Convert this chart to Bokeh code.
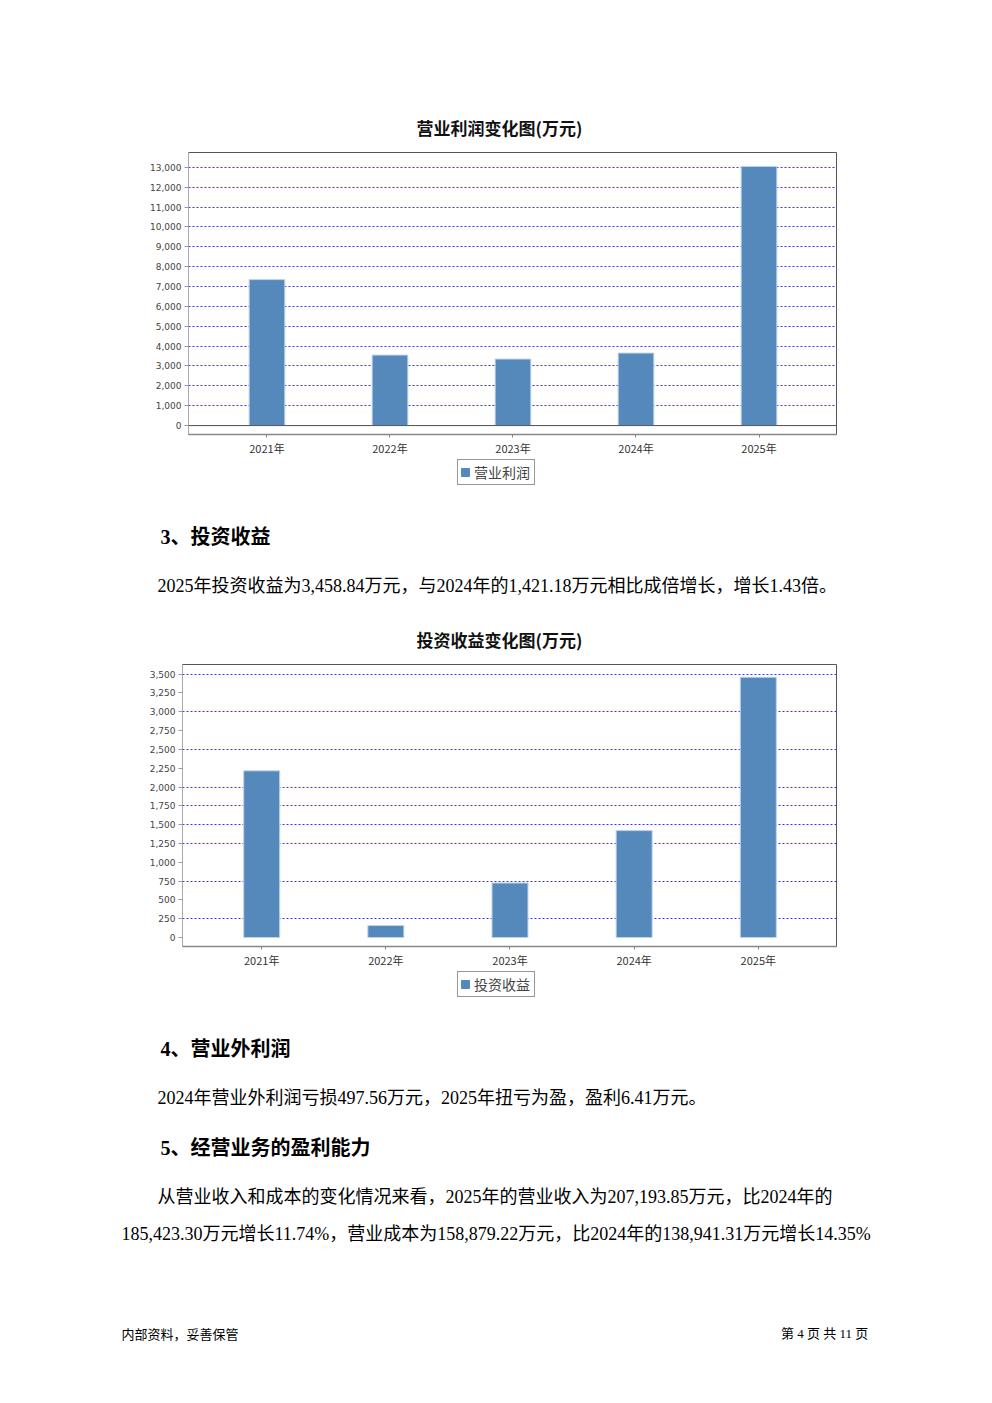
from bokeh.plotting import figure
from bokeh.models import (Range1d, FixedTicker, Span, Legend, LegendItem,
                          ColumnDataSource, NumeralTickFormatter, Title)
from bokeh.core.properties import value
from bokeh.embed import file_html
from bokeh.resources import INLINE

# ---------------- data ----------------
years = ["2021年", "2022年", "2023年", "2024年", "2025年"]
op_profit = [7350, 3550, 3350, 3650, 13050]          # 营业利润 (万元)
inv_income = [2215, 160, 725, 1421.18, 3458.84]      # 投资收益 (万元)
op_ticks = [0, 1000, 2000, 3000, 4000, 5000, 6000, 7000, 8000, 9000,
            10000, 11000, 12000, 13000]
inv_ticks = [0, 250, 500, 750, 1000, 1250, 1500, 1750, 2000, 2250, 2500,
             2750, 3000, 3250, 3500]
inv_grid = [250, 750, 1250, 1500, 1750, 2000, 2500, 3000, 3500]

title1 = "营业利润变化图(万元)"
title2 = "投资收益变化图(万元)"
series1 = "营业利润"
series2 = "投资收益"

W = 976
BAR = "#5588bb"
BAR_EDGE = "#c0d4ea"
GRID = "#3333ff"
CJK = "Noto Sans CJK SC"
BODY = "Liberation Serif, Noto Sans CJK SC"
XS = [i + 0.5 for i in range(len(years))]


def bar_chart(height, vals, ticks, grid_ticks, yr, title, bl, bt, bb,
              title_offset, baseline_box):
    src = ColumnDataSource(dict(x=XS, top=vals, name=years))
    p = figure(width=W, height=height, output_backend="svg", toolbar_location=None,
               x_range=Range1d(-0.138, len(years) + 0.13), y_range=Range1d(*yr),
               min_border_left=bl, min_border_right=W - 836, min_border_top=bt,
               min_border_bottom=bb)
    p.vbar(x="x", top="top", bottom=0, width=0.29, source=src,
           fill_color=BAR, line_color=BAR_EDGE, line_width=1)
    p.outline_line_color = "#555555"
    p.outline_line_width = 1
    p.xgrid.visible = False
    p.ygrid.ticker = FixedTicker(ticks=grid_ticks)
    p.ygrid.grid_line_color = GRID
    p.ygrid.grid_line_dash = "2 2"
    p.ygrid.grid_line_width = 1
    p.ygrid.level = "underlay"
    # y axis
    ya = p.yaxis[0]
    ya.ticker = FixedTicker(ticks=ticks)
    ya.formatter = NumeralTickFormatter(format="0,0")
    ya.major_label_text_font = "DejaVu Sans"
    ya.major_label_text_font_size = "9px"
    ya.major_label_text_color = "#444444"
    ya.major_tick_in = 0
    ya.major_tick_out = 4
    ya.major_tick_line_color = "#999999"
    ya.minor_tick_line_color = None
    ya.axis_line_color = "#aaaaaa"
    ya.major_label_standoff = 3
    # x axis
    xa = p.xaxis[0]
    xa.ticker = FixedTicker(ticks=XS)
    xa.major_label_overrides = {x: y for x, y in zip(XS, years)}
    xa.major_label_text_font = CJK
    xa.major_label_text_font_size = "11px"
    xa.major_label_text_color = "#333333"
    xa.major_tick_in = 0
    xa.major_tick_out = 3
    xa.major_tick_line_color = "#888888"
    xa.minor_tick_line_color = None
    xa.axis_line_color = "#888888"
    xa.axis_line_width = 1.5
    xa.major_label_standoff = 2
    if baseline_box:
        p.add_layout(Span(location=0, dimension="width", line_color="#555555",
                          line_width=1))
    p.add_layout(Title(text=title, align="left", offset=title_offset,
                       standoff=26, text_font=CJK, text_font_size="17px",
                       text_font_style="bold", text_color="#111111"), "above")
    return p


def text_fig(top, bottom, items, legend_label=None, legend_vals=None,
             legend_xy=None):
    p = figure(width=W, height=bottom - top, output_backend="svg",
               toolbar_location=None, x_range=Range1d(0, W),
               y_range=Range1d(bottom, top), min_border=0,
               x_axis_type=None, y_axis_type=None)
    p.outline_line_color = None
    p.grid.visible = False
    for (x, y, t, size, style, font, align) in items:
        p.text(x=[x], y=[y], text=[t], text_font=value(font),
               text_font_size=size, text_font_style=style,
               text_baseline="middle", text_align=align, text_color="#000000")
    if legend_label is not None:
        # hidden copy of the series: it only supplies the legend swatch
        r = p.vbar(x=XS, top=legend_vals, width=0.29, fill_color=BAR,
                   line_color=BAR, visible=False)
        leg = Legend(items=[LegendItem(label=legend_label, renderers=[r])],
                     location=legend_xy, orientation="horizontal",
                     border_line_color="#333333", border_line_width=1,
                     label_text_font=CJK, label_text_font_size="14px",
                     label_text_color="#444444", glyph_width=10, glyph_height=10,
                     padding=2, margin=0, label_standoff=4, spacing=0,
                     label_height=12, label_width=58, background_fill_alpha=1,
                     inactive_fill_alpha=0, click_policy="none")
        p.add_layout(leg)
    return p


chart1 = bar_chart(458, op_profit, op_ticks, op_ticks, (-450, 13750), title1,
                   188, 152, 22, 228, True)
txt1 = text_fig(458, 600, [
    (160, 536, "3、投资收益", "20px", "bold", BODY, "left"),
    (157, 585, "2025年投资收益为3,458.84万元，与2024年的1,421.18万元相比成倍增长，增长1.43倍。",
     "18px", "normal", BODY, "left"),
], series1, op_profit, (457, 600 - 485))
chart2 = bar_chart(370, inv_income, inv_ticks, inv_grid, (-118.7, 3628), title2,
                   182, 64, 22, 234, False)
txt2 = text_fig(970, 1400, [
    (160, 1048, "4、营业外利润", "20px", "bold", BODY, "left"),
    (157, 1097, "2024年营业外利润亏损497.56万元，2025年扭亏为盈，盈利6.41万元。",
     "18px", "normal", BODY, "left"),
    (160, 1147, "5、经营业务的盈利能力", "20px", "bold", BODY, "left"),
    (157, 1196, "从营业收入和成本的变化情况来看，2025年的营业收入为207,193.85万元，比2024年的",
     "18px", "normal", BODY, "left"),
    (121, 1233, "185,423.30万元增长11.74%，营业成本为158,879.22万元，比2024年的138,941.31万元增长14.35%",
     "18px", "normal", BODY, "left"),
    (121, 1333, "内部资料，妥善保管", "13px", "normal", CJK, "left"),
    (871, 1333, "第 4 页  共 11 页", "13px", "normal", BODY, "right"),
], series2, inv_income, (457, 1400 - 997))

open("out.html", "w").write(file_html([chart1, txt1, chart2, txt2], INLINE))
